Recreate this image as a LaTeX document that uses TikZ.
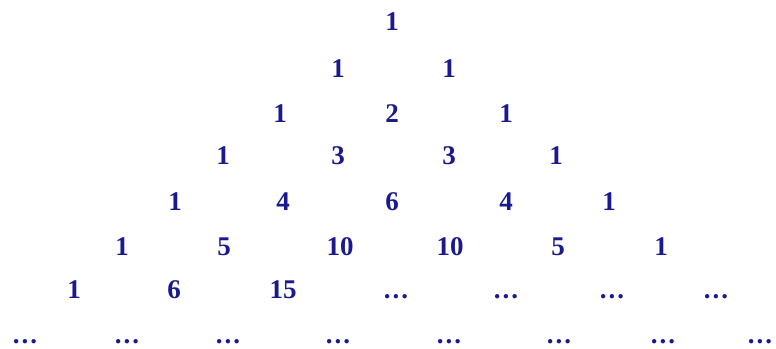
\documentclass[tikz,border=0pt]{standalone}
\usepackage{fontspec}
\setmainfont{Liberation Serif}
\usepackage{xcolor}
\usepackage{tikz}
\definecolor{Navy}{HTML}{1A1A8E}
\newcommand{\etcdots}{.\kern2pt.\kern2pt.}

\begin{document}
\begin{tikzpicture}[
  x=1pt,y=-1pt,
  num/.style={anchor=base,inner sep=0pt,text=Navy,font=\fontsize{27}{30}\selectfont\bfseries}
]
\useasboundingbox (0,0) rectangle (776,348);
% row 0
\node[num] (r0-1) at (392,30) {1};
% row 1
\foreach \x/\t [count=\i] in {338/1,449/1}
  \node[num] (r1-\i) at (\x,77) {\t};
% row 2
\foreach \x/\t [count=\i] in {280/1,392/2,506/1}
  \node[num] (r2-\i) at (\x,122) {\t};
% row 3
\foreach \x/\t [count=\i] in {223/1,338/3,449/3,556/1}
  \node[num] (r3-\i) at (\x,164) {\t};
% row 4
\foreach \x/\t [count=\i] in {175/1,283/4,392/6,506/4,609/1}
  \node[num] (r4-\i) at (\x,210) {\t};
% row 5
\foreach \x/\t [count=\i] in {122/1,224/5,340/10,450/10,558/5,661/1}
  \node[num] (r5-\i) at (\x,255) {\t};
% row 6
\foreach \x/\t [count=\i] in {74/1,174/6,283/15}
  \node[num] (r6-\i) at (\x,298) {\t};
\foreach \x [count=\i from 4] in {396,506,612,716}
  \node[num] (r6-\i) at (\x,298) {\etcdots};
% row 7
\foreach \x [count=\i] in {25,127,228,338,449,559,663,760}
  \node[num] (r7-\i) at (\x,343) {\etcdots};
\end{tikzpicture}
\end{document}
